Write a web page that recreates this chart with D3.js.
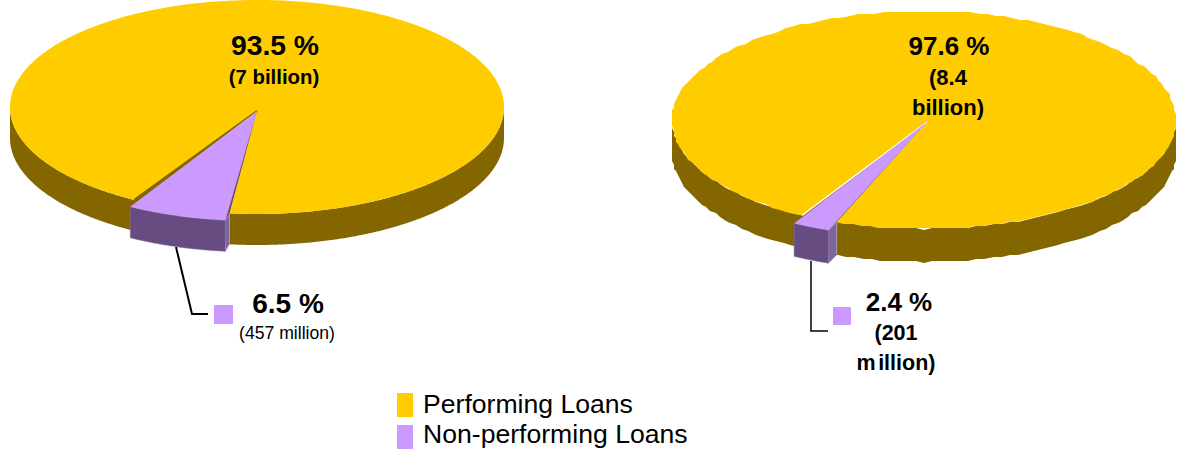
<!DOCTYPE html>
<html>
<head>
<meta charset="utf-8">
<script src="https://cdn.jsdelivr.net/npm/d3@7"></script>
<style>
html,body{margin:0;padding:0;background:#fff}
svg{display:block}
text{font-family:"Liberation Sans",Arial,sans-serif;fill:#000}
</style>
</head>
<body>
<svg id="chart" width="1182" height="450"></svg>
<script>
// Loan quality shares for the two portfolios, in percent
const categories = ["Non-performing Loans", "Performing Loans"];
const shares2 = [6.5, 93.5];
const shares1 = [2.4, 97.6];
const legendLabels = ["Performing Loans", "Non-performing Loans"];

const GOLD = "#FFCC00", GOLD_SIDE = "#846600";
const LILAC = "#CC99FF", LILAC_SIDE = "#664C80", LILAC_WALL = "#7C64A0";

const svg = d3.select("#chart");
const rad = d => d * Math.PI / 180;
const toPath = d3.line().x(p => p[0]).y(p => p[1]);

// Flat pie tilted into an ellipse, with a raised wedge for the smaller share
function drawPie(cfg) {
  const pie = d3.pie().sort(null).value(d => d)
    .startAngle(rad(cfg.start)).endAngle(rad(cfg.start + 360));
  const [small, large] = pie(cfg.values);
  const g = svg.append("g");

  const smooth = a => [cfg.cx + cfg.rx * Math.sin(a), cfg.cy - cfg.ry * Math.cos(a)];
  // Coarse outlines are snapped to a pixel grid for a slightly uneven edge
  const snap = p => cfg.grain
    ? [Math.round(p[0] / cfg.grain) * cfg.grain, Math.round(p[1] / cfg.grain) * cfg.grain]
    : p;
  const sample = (a0, a1, step, fn) => {
    const n = Math.max(2, Math.ceil(Math.abs(a1 - a0) / step));
    return d3.range(n + 1).map(i => fn(a0 + (a1 - a0) * i / n));
  };
  const outline = (a0, a1) => {
    const pts = sample(a0, a1, cfg.grain ? rad(2) : rad(0.5), a => snap(smooth(a)));
    pts[0] = smooth(a0);
    pts[pts.length - 1] = smooth(a1);
    return pts;
  };
  const down = (p, dy = cfg.depth) => [p[0], p[1] + dy];
  const apex = cfg.apex;

  // Outer wall of the large share
  const lower = outline(rad(90), rad(270));
  g.append("path").attr("fill", GOLD_SIDE)
    .attr("d", toPath([...lower, ...lower.map(p => down(p)).reverse()]) + "Z");

  // Exposed wall inside the notch
  const nR = smooth(small.startAngle), nL = smooth(small.endAngle);
  g.append("path").attr("fill", GOLD_SIDE)
    .attr("d", toPath([apex, nR, down(nR), down(nL), nL]) + "Z");

  // Top face of the large share
  g.append("path").attr("fill", GOLD)
    .attr("d", toPath([apex, ...outline(large.startAngle, large.endAngle)]) + "Z");
  g.append("path").attr("fill", "none").attr("stroke", cfg.notchEdge).attr("stroke-width", cfg.notchWidth)
    .attr("d", toPath([apex, nL]));

  // Raised wedge: rim pulled away from the notch
  const shift = p => [p[0] + cfg.pull[0], p[1] + cfg.pull[1]];
  const wedge = sample(small.startAngle, small.endAngle, rad(0.5), smooth).map(shift);
  const sR = wedge[0];

  // Thin inner face between wedge and notch
  g.append("path").attr("fill", LILAC_WALL).attr("stroke", "#cdbfe0").attr("stroke-width", 0.6)
    .attr("d", toPath([sR, nR, down(nR), down(sR)]) + "Z");
  g.append("path").attr("fill", LILAC_SIDE)
    .attr("d", toPath([apex, nR, sR]) + "Z");

  // Front face and top of the wedge
  g.append("path").attr("fill", LILAC_SIDE).attr("stroke", "#8d79a8").attr("stroke-width", 0.5)
    .attr("d", toPath([...wedge, ...wedge.map(p => down(p)).reverse()]) + "Z");
  g.append("path").attr("fill", LILAC)
    .attr("d", toPath([apex, ...wedge]) + "Z");

  // Leader line and key swatch
  g.append("path").attr("fill", "none").attr("stroke", "#000").attr("stroke-width", cfg.leaderWidth)
    .attr("d", toPath(cfg.leader));
  g.append("rect").attr("x", cfg.swatch[0]).attr("y", cfg.swatch[1])
    .attr("width", cfg.swatch[2]).attr("height", cfg.swatch[2]).attr("fill", LILAC);

  // Value labels, percentages read directly from the data
  const pct = v => `${v} %`;
  const lines = [pct(cfg.values[1]), ...cfg.largeNote, pct(cfg.values[0]), ...cfg.smallNote];
  cfg.labelStyles.forEach((s, i) => {
    const label = g.append("text").attr("x", s.x).attr("y", s.y)
      .attr("text-anchor", "middle")
      .attr("font-size", s.size).attr("font-weight", s.weight || "bold");
    // A line given as pieces is set with a small gap between them
    [].concat(lines[i]).forEach((piece, k) => {
      label.append("tspan").attr("dx", k ? 2.5 : 0).text(piece);
    });
  });
}

drawPie({
  values: shares2, start: 186.4,
  cx: 257, cy: 107, rx: 247, ry: 107, depth: 31, grain: 0,
  apex: [257, 111], pull: [-4, 7],
  notchEdge: GOLD_SIDE, notchWidth: 2,
  leader: [[176, 247], [192, 314], [208, 314]], leaderWidth: 2,
  swatch: [214, 305, 19],
  largeNote: ["(7 billion)"],
  smallNote: ["(457 million)"],
  labelStyles: [
    { x: 275, y: 55, size: 28.3 },
    { x: 274, y: 84, size: 20.4 },
    { x: 288, y: 313, size: 28 },
    { x: 287, y: 339, size: 17.6, weight: "normal" }
  ]
});

drawPie({
  values: shares1, start: 200.3,
  cx: 924, cy: 120, rx: 252, ry: 109, depth: 33, grain: 2,
  apex: [927, 122], pull: [-8, 8],
  notchEdge: "#ffffff", notchWidth: 1.5,
  leader: [[811, 261], [811, 331], [828, 331]], leaderWidth: 1.5,
  swatch: [833, 307, 18],
  largeNote: ["(8.4", "billion)"],
  smallNote: ["(201", ["m", "illion)"]],
  labelStyles: [
    { x: 949, y: 55, size: 26 },
    { x: 948, y: 85, size: 22 },
    { x: 948, y: 115, size: 22 },
    { x: 899, y: 311, size: 26 },
    { x: 896, y: 340, size: 21.5 },
    { x: 896, y: 370, size: 21.5 }
  ]
});

// Shared legend below the pies
const legendColor = d3.scaleOrdinal().domain(categories).range([LILAC, GOLD]);
const swatchY = d3.scalePoint().domain(legendLabels).range([393, 425]);
const textY = d3.scalePoint().domain(legendLabels).range([413, 443]);
const row = svg.selectAll("g.legend").data(legendLabels).join("g").attr("class", "legend");
row.append("rect").attr("x", 397).attr("y", d => swatchY(d))
  .attr("width", 16).attr("height", 24).attr("fill", d => legendColor(d));
row.append("text").attr("x", 423).attr("y", d => textY(d)).attr("font-size", 26.6).text(d => d);
</script>
</body>
</html>
